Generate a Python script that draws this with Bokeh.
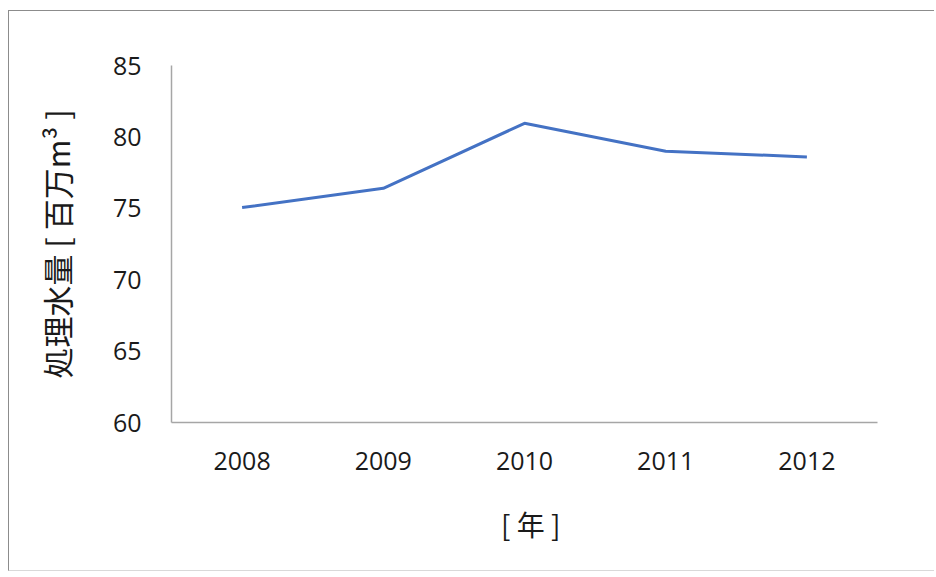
from bokeh.plotting import figure
from bokeh.models import FactorRange, Range1d
from bokeh.embed import file_html
from bokeh.resources import INLINE

years = ["2008", "2009", "2010", "2011", "2012"]
volumes = [75.05, 76.4, 80.95, 79.0, 78.6]
y_ticks = [60, 65, 70, 75, 80, 85]
NB = "\u00a0"
y_label = "処理水量" + NB + "[" + NB + "百万m³" + NB + "]"
x_label = NB * 2 + "[" + NB + "年" + NB + "]"

W, H = 926, 561
OX, OY = 9.5, 11.5  # content origin on the page (margin + border)
p = figure(width=W, height=H, output_backend="svg", toolbar_location=None,
           x_range=FactorRange(*years, range_padding=0), y_range=Range1d(60, 85))
p.min_border_left = int(172 - OX)
p.min_border_right = int(W - (877 - OX))
p.min_border_top = int(65 - OY + 0.5)
p.min_border_bottom = int(H - (422 - OY))
p.outline_line_color = None
p.xgrid.grid_line_color = None
p.ygrid.grid_line_color = None
p.background_fill_color = "white"
p.border_fill_color = "white"
p.styles = {"margin-left": "8px", "margin-top": "10px",
            "border-left": "1.5px solid #8c8c8c",
            "border-top": "1.5px solid #8c8c8c",
            "border-right": "none",
            "border-bottom": "1px solid #d9d9d9"}

p.line(x=years, y=volumes, line_color="#4472C4", line_width=3)

for ax in (p.xaxis[0], p.yaxis[0]):
    ax.axis_line_color = "#a6a6a6"
    ax.axis_line_width = 1.5
    ax.major_tick_line_color = None
    ax.minor_tick_line_color = None
    ax.major_label_text_font = "Open Sans"
    ax.major_label_text_font_size = "25px"
    ax.major_label_text_color = "#1a1a1a"
    ax.axis_label_text_font = "Noto Sans CJK JP"
    ax.axis_label_text_font_style = "normal"
    ax.axis_label_text_font_size = "28px"
    ax.axis_label_text_color = "#1a1a1a"

p.yaxis[0].ticker = y_ticks
p.yaxis[0].major_label_standoff = 24
p.yaxis[0].axis_label = y_label
p.yaxis[0].axis_label_text_font_size = "31px"
p.yaxis[0].axis_label_standoff = 31
p.xaxis[0].major_label_standoff = 23
p.xaxis[0].axis_label = x_label
p.xaxis[0].axis_label_standoff = 31

open("out.html", "w").write(file_html(p, INLINE))
